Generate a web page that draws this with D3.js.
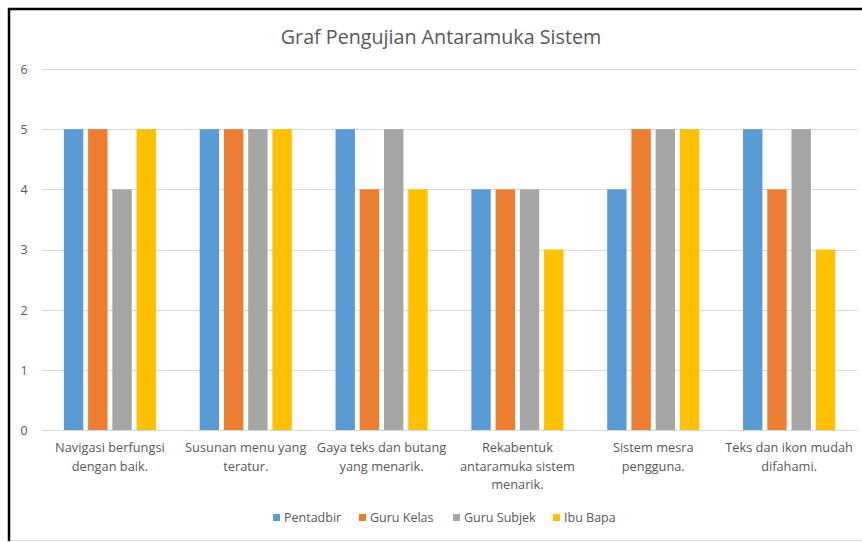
<!DOCTYPE html>
<html><head><meta charset="utf-8">
<script src="https://cdn.jsdelivr.net/npm/d3@7"></script>
<style>
html,body{margin:0;padding:0;background:#fff;}
svg{display:block;}
text{font-family:"Open Sans","Noto Sans",sans-serif;fill:#595959;}
</style></head>
<body>
<svg id="chart" width="862" height="542"></svg>
<script>
const title = "Graf Pengujian Antaramuka Sistem";
const categories = [
  "Navigasi berfungsi dengan baik.",
  "Susunan menu yang teratur.",
  "Gaya teks dan butang yang menarik.",
  "Rekabentuk antaramuka sistem menarik.",
  "Sistem mesra pengguna.",
  "Teks dan ikon mudah difahami."
];
const categoryLines = [
  ["Navigasi berfungsi", "dengan baik."],
  ["Susunan menu yang", "teratur."],
  ["Gaya teks dan butang", "yang menarik."],
  ["Rekabentuk", "antaramuka sistem", "menarik."],
  ["Sistem mesra", "pengguna."],
  ["Teks dan ikon mudah", "difahami."]
];
const seriesNames = ["Pentadbir", "Guru Kelas", "Guru Subjek", "Ibu Bapa"];
const pentadbir  = [5, 5, 5, 4, 4, 5];
const guruKelas  = [5, 5, 4, 4, 5, 4];
const guruSubjek = [4, 5, 5, 4, 5, 5];
const ibuBapa    = [5, 5, 4, 3, 5, 3];
const seriesValues = [pentadbir, guruKelas, guruSubjek, ibuBapa];
const colors = ["#5B9BD5", "#ED7D31", "#A5A5A5", "#FFC000"];
const yTicks = [0, 1, 2, 3, 4, 5, 6];

const svg = d3.select("#chart");
const W = 862, H = 542;
const plot = {left: 42, right: 857, top: 69, bottom: 430};

// frame
svg.append("rect").attr("x", 0).attr("y", 0).attr("width", W).attr("height", H).attr("fill", "#fff");
svg.append("line").attr("x1", 8).attr("x2", W).attr("y1", 9).attr("y2", 9).attr("stroke", "#000").attr("stroke-width", 2.5);
svg.append("line").attr("x1", 9).attr("x2", 9).attr("y1", 8).attr("y2", 541).attr("stroke", "#000").attr("stroke-width", 2.5);
svg.append("line").attr("x1", 10).attr("x2", W).attr("y1", 540.5).attr("y2", 540.5).attr("stroke", "#d9d9d9").attr("stroke-width", 1);

const y = d3.scaleLinear().domain([0, 6]).range([plot.bottom, plot.top]);
const x0 = d3.scaleBand().domain(categories).range([plot.left, plot.right]).paddingInner(0.322).paddingOuter(0.161);
const x1 = d3.scaleBand().domain(seriesNames).range([0, x0.bandwidth()]).paddingInner(0.2);

// gridlines
svg.append("g").selectAll("line").data(yTicks.filter(d => d > 0)).join("line")
  .attr("x1", plot.left).attr("x2", plot.right)
  .attr("y1", d => Math.round(y(d)) + 0.5).attr("y2", d => Math.round(y(d)) + 0.5)
  .attr("stroke", "#d9d9d9").attr("stroke-width", 1);

// y axis labels
const yAxis = d3.axisLeft(y).tickValues(yTicks).tickFormat(d3.format("d")).tickSize(0).tickPadding(0);
const ya = svg.append("g").attr("transform", `translate(24,0)`).call(yAxis);
ya.select(".domain").remove();
ya.selectAll("text").attr("font-size", 12.5).attr("font-family", "Open Sans, sans-serif").attr("fill", "#595959").attr("text-anchor", "middle").attr("dy", "0.35em");

// bars
const rows = categories.map((c, i) => ({c, vals: seriesNames.map((s, j) => ({s, v: seriesValues[j][i], col: colors[j]}))}));
const groups = svg.append("g").selectAll("g").data(rows).join("g")
  .attr("transform", d => `translate(${x0(d.c)},0)`);
groups.selectAll("rect").data(d => d.vals).join("rect")
  .attr("x", d => x1(d.s)).attr("width", x1.bandwidth())
  .attr("y", d => y(d.v)).attr("height", d => y(0) - y(d.v))
  .attr("fill", d => d.col);

// x axis line
svg.append("line").attr("x1", plot.left).attr("x2", plot.right)
  .attr("y1", plot.bottom + 0.5).attr("y2", plot.bottom + 0.5).attr("stroke", "#d9d9d9");

// category labels
const xAxis = d3.axisBottom(x0).tickSize(0).tickFormat(() => "");
const xa = svg.append("g").attr("transform", `translate(0,${plot.bottom})`).call(xAxis);
xa.select(".domain").remove();
categories.forEach((c, i) => {
  categoryLines[i].forEach((ln, k) => {
    svg.append("text").attr("x", x0(c) + x0.bandwidth() / 2).attr("y", 452 + k * 18.5)
      .attr("text-anchor", "middle").attr("font-size", 12.8).text(ln);
  });
});

// title
svg.append("text").attr("x", 441).attr("y", 44).attr("text-anchor", "middle")
  .attr("font-size", 19.7).text(title);

// legend
const legendX = [273, 359, 453, 553];
const lg = svg.append("g").selectAll("g").data(seriesNames).join("g")
  .attr("transform", (d, i) => `translate(${legendX[i]},518)`);
lg.append("rect").attr("x", 0).attr("y", -4).attr("width", 7).attr("height", 7).attr("fill", (d, i) => colors[i]);
lg.append("text").attr("x", 11).attr("y", 0).attr("dy", "0.35em").attr("font-size", 12.5).text(d => d);
</script>
</body></html>
